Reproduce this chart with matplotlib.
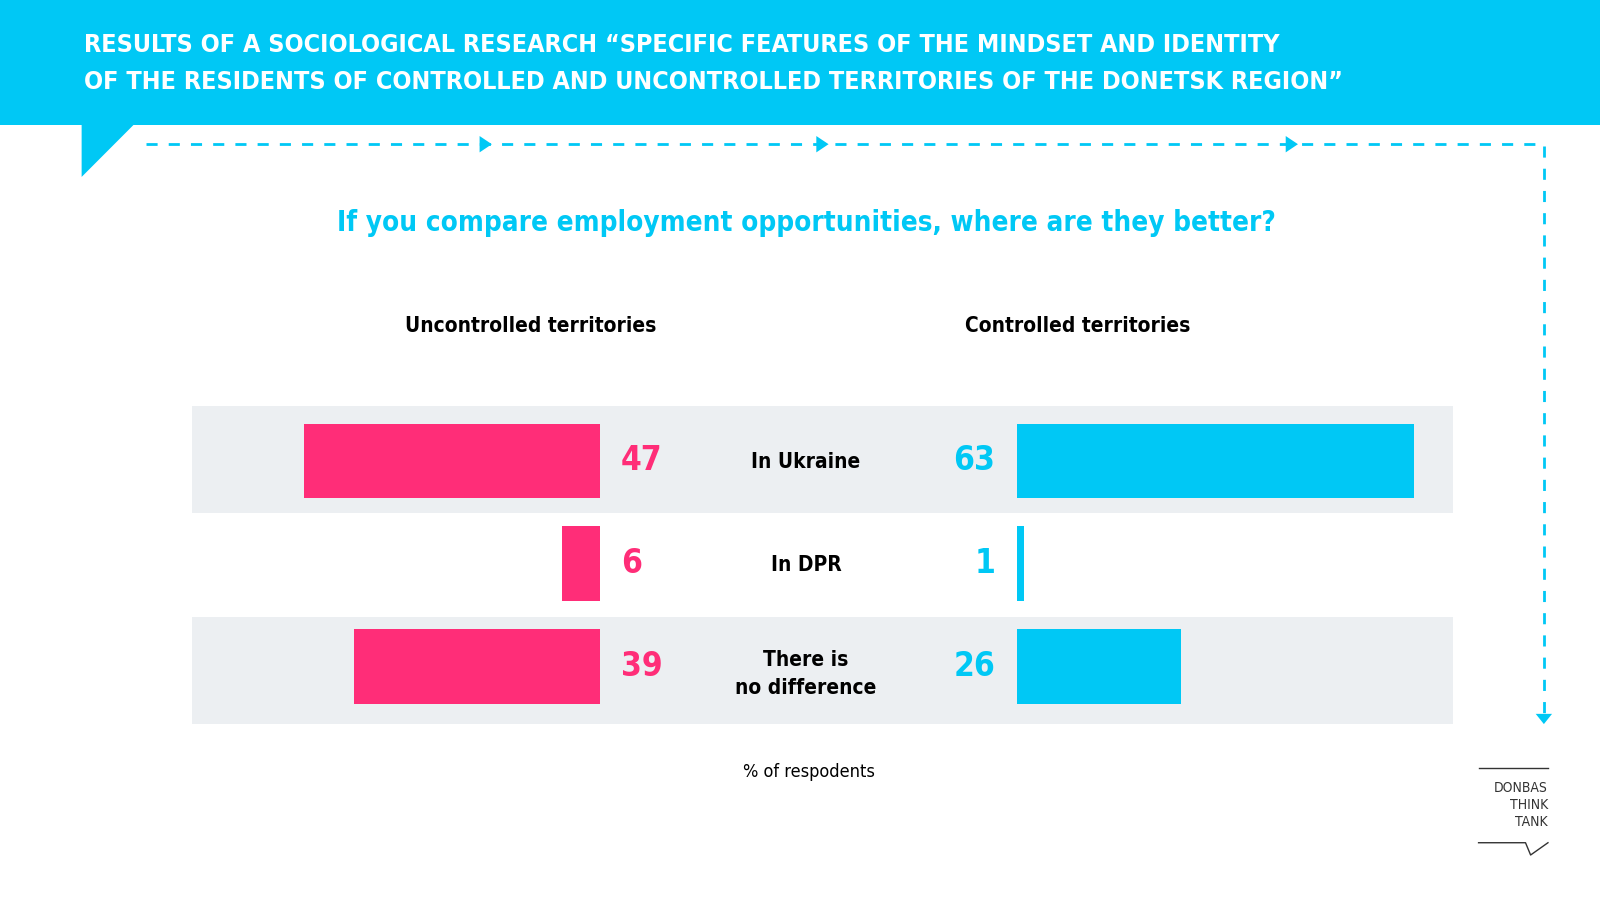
import matplotlib.pyplot as plt
from matplotlib.patches import Rectangle, Polygon

plt.rcParams['font.family'] = ['DejaVu Sans']
plt.rcParams['font.stretch'] = 'condensed'

categories = ['In Ukraine', 'In DPR', 'There is\nno difference']
uncontrolled = [47, 6, 39]
controlled = [63, 1, 26]

CYAN = '#00c8f5'
PINK = '#ff2d78'
GREY = '#eceff2'
W, H = 1568, 880

fig = plt.figure(figsize=(16, 9), dpi=100)
bg = fig.add_axes([0, 0, 1, 1])
bg.set_xlim(0, W)
bg.set_ylim(H, 0)
bg.axis('off')

# header
bg.add_patch(Rectangle((0, 0), W, 122, color=CYAN, lw=0))
bg.add_patch(Polygon([(80, 121), (132, 121), (80, 173)], color=CYAN, lw=0))
bg.text(82, 44, 'RESULTS OF A SOCIOLOGICAL RESEARCH \u201cSPECIFIC FEATURES OF THE MINDSET AND IDENTITY',
        color='white', fontsize=18, fontweight='bold', va='center')
bg.text(82, 80, 'OF THE RESIDENTS OF CONTROLLED AND UNCONTROLLED TERRITORIES OF THE DONETSK REGION\u201d',
        color='white', fontsize=18, fontweight='bold', va='center')

# dashed path with arrows
bg.plot([143, 1513, 1513], [141, 141, 698], color=CYAN, lw=2, ls=(0, (4, 4)))
for x in [470, 800, 1260]:
    bg.add_patch(Polygon([(x, 133), (x + 12, 141), (x, 149)], color=CYAN, lw=0))
bg.add_patch(Polygon([(1505, 698), (1521, 698), (1513, 708)], color=CYAN, lw=0))

bg.text(790, 218, 'If you compare employment opportunities, where are they better?',
        color=CYAN, fontsize=20, fontweight='bold', ha='center', va='center')
bg.text(520, 319, 'Uncontrolled territories', fontsize=15, fontweight='bold', ha='center', va='center')
bg.text(1056, 319, 'Controlled territories', fontsize=15, fontweight='bold', ha='center', va='center')

# grey bands
for y0 in [397, 603]:
    bg.add_patch(Rectangle((188, y0), 1236, 105, color=GREY, lw=0))

for i, c in enumerate(categories):
    bg.text(790, 452 + i * 100.5 + (6 if i == 2 else 0), c, fontsize=15, fontweight='bold',
            ha='center', va='center', linespacing=1.5)

bg.text(793, 755, '% of respodents', fontsize=13, ha='center', va='center')

# logo
bg.plot([1449, 1517], [751, 751], color='#333333', lw=1)
bg.plot([1449, 1495, 1500, 1517], [824, 824, 836, 824], color='#333333', lw=1)
bg.text(1517, 787, 'DONBAS\nTHINK\nTANK', fontsize=10, ha='right', va='center',
        color='#333333', linespacing=1.3)

# bar axes
scale = 6.17
top, bot = 400, 702
axl = fig.add_axes([188 / W, 1 - bot / H, 400 / W, (bot - top) / H])
axr = fig.add_axes([997 / W, 1 - bot / H, 427 / W, (bot - top) / H])
rows = list(range(len(categories)))
axl.barh(rows, uncontrolled, height=0.72, color=PINK)
axl.set_xlim(400 / scale, 0)
axr.barh(rows, controlled, height=0.72, color=CYAN)
axr.set_xlim(0, 427 / scale)
for ax in (axl, axr):
    ax.set_ylim(2.5, -0.5)
    ax.axis('off')
    ax.patch.set_alpha(0)
for r, v in zip(rows, uncontrolled):
    axl.text(-3.3, r, str(v), color=PINK, fontsize=24, fontweight='bold',
             ha='left', va='center', clip_on=False)
for r, v in zip(rows, controlled):
    axr.text(-3.5, r, str(v), color=CYAN, fontsize=24, fontweight='bold',
             ha='right', va='center', clip_on=False)

fig.savefig('out.png', dpi=100)
